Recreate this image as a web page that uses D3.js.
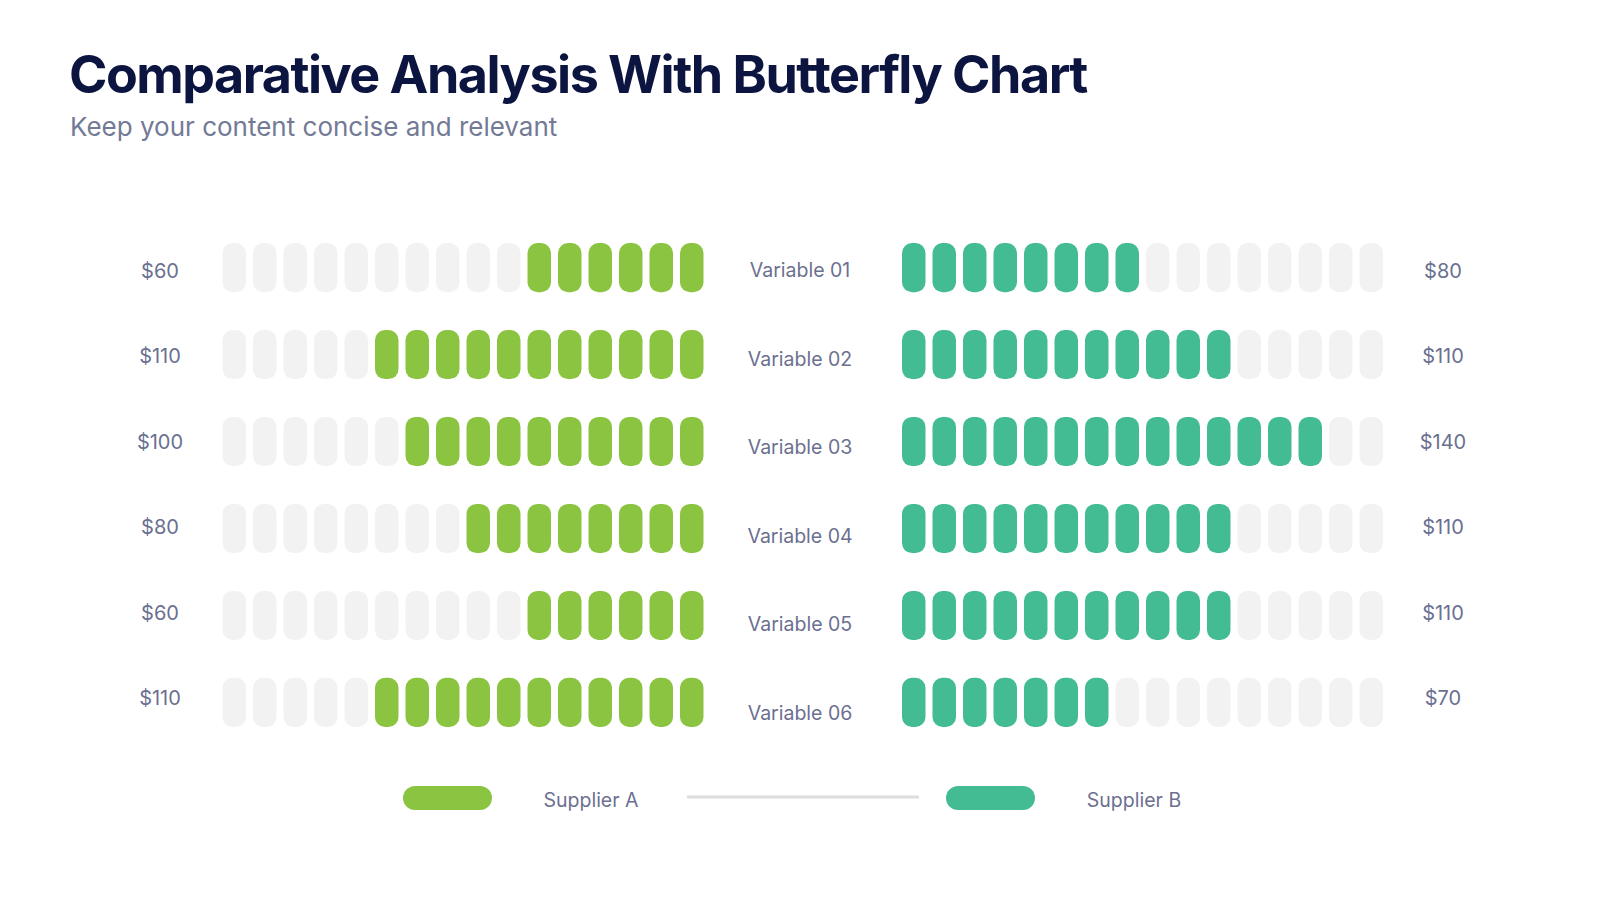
<html>
<head>
<title>Butterfly Chart</title>
<style>
  body { margin: 0; background: #ffffff; }
  svg { display: block; font-family: Inter, "Noto Sans", sans-serif; }
</style>
</head>
<body>
<svg></svg>
<script src="https://d3js.org/d3.v7.min.js"></script>
<script>
// data
var variables = ["Variable 01", "Variable 02", "Variable 03", "Variable 04", "Variable 05", "Variable 06"];
var supplierA = [60, 110, 100, 80, 60, 110];
var supplierB = [80, 110, 140, 110, 110, 70];
var seriesNames = ["Supplier A", "Supplier B"];
var unit = 10;      // one pill = $10
var maxPills = 16;

var colorA = "#8bc441", colorB = "#43bb93", colorEmpty = "#f2f2f2";

var svg = d3.select("svg")
    .attr("width", 1600)
    .attr("height", 900);

// title
svg.append("text")
    .attr("x", 69).attr("y", 93)
    .attr("font-size", 52).attr("font-weight", 700)
    .attr("letter-spacing", -1.5)
    .attr("fill", "#0c1440")
    .text("Comparative Analysis With Butterfly Chart");

svg.append("text")
    .attr("x", 70).attr("y", 136)
    .attr("font-size", 26)
    .attr("fill", "#737a96")
    .text("Keep your content concise and relevant");

// scales
var y = d3.scaleBand().domain(variables).range([243, 727]).paddingInner(0.435);
var xA = d3.scaleBand().domain(d3.range(maxPills)).range([222.5, 703.5]).paddingInner(0.23);
var xB = d3.scaleBand().domain(d3.range(maxPills)).range([902, 1383]).paddingInner(0.23);
var yLabel = d3.scalePoint().domain(variables).range([277, 720]);
var yValue = d3.scalePoint().domain(variables).range([278, 705]);

var rows = variables.map(function(v, i) {
    return {name: v, a: supplierA[i], b: supplierB[i]};
});

var row = svg.selectAll("g.row")
    .data(rows).enter()
    .append("g")
    .attr("class", "row");

// left side pills (filled from the middle outwards)
row.selectAll("rect.a")
    .data(function(d) {
        return d3.range(maxPills).map(function(i) {
            return {i: i, name: d.name, on: i >= maxPills - d.a / unit};
        });
    }).enter()
    .append("rect")
    .attr("class", "a")
    .attr("x", function(p) { return xA(p.i); })
    .attr("y", function(p) { return y(p.name); })
    .attr("width", xA.bandwidth())
    .attr("height", y.bandwidth())
    .attr("rx", 10)
    .attr("fill", function(p) { return p.on ? colorA : colorEmpty; });

// right side pills
row.selectAll("rect.b")
    .data(function(d) {
        return d3.range(maxPills).map(function(i) {
            return {i: i, name: d.name, on: i < d.b / unit};
        });
    }).enter()
    .append("rect")
    .attr("class", "b")
    .attr("x", function(p) { return xB(p.i); })
    .attr("y", function(p) { return y(p.name); })
    .attr("width", xB.bandwidth())
    .attr("height", y.bandwidth())
    .attr("rx", 10)
    .attr("fill", function(p) { return p.on ? colorB : colorEmpty; });

// values and labels
row.append("text")
    .attr("x", 160)
    .attr("y", function(d) { return yValue(d.name); })
    .attr("text-anchor", "middle")
    .attr("font-size", 20)
    .attr("fill", "#6b7090")
    .text(function(d) { return "$" + d.a; });

row.append("text")
    .attr("x", 1443)
    .attr("y", function(d) { return yValue(d.name); })
    .attr("text-anchor", "middle")
    .attr("font-size", 20)
    .attr("fill", "#6b7090")
    .text(function(d) { return "$" + d.b; });

row.append("text")
    .attr("x", 800)
    .attr("y", function(d) { return yLabel(d.name); })
    .attr("text-anchor", "middle")
    .attr("font-size", 19.5)
    .attr("fill", "#6b7090")
    .text(function(d) { return d.name; });

// legend
var legend = svg.append("g");
var legendX = d3.scalePoint().domain(seriesNames).range([403, 946]);

legend.append("line")
    .attr("x1", 687).attr("x2", 919)
    .attr("y1", 797).attr("y2", 797)
    .attr("stroke", "#dddddd").attr("stroke-width", 3);

legend.selectAll("rect")
    .data(seriesNames).enter()
    .append("rect")
    .attr("x", function(d) { return legendX(d); })
    .attr("y", 786)
    .attr("width", 89).attr("height", 24).attr("rx", 12)
    .attr("fill", function(d, i) { return i == 0 ? colorA : colorB; });

legend.selectAll("text")
    .data(seriesNames).enter()
    .append("text")
    .attr("x", function(d) { return legendX(d) + 188; })
    .attr("y", 807)
    .attr("text-anchor", "middle")
    .attr("font-size", 19.5)
    .attr("fill", "#6b7090")
    .text(function(d) { return d; });
</script>
</body>
</html>
